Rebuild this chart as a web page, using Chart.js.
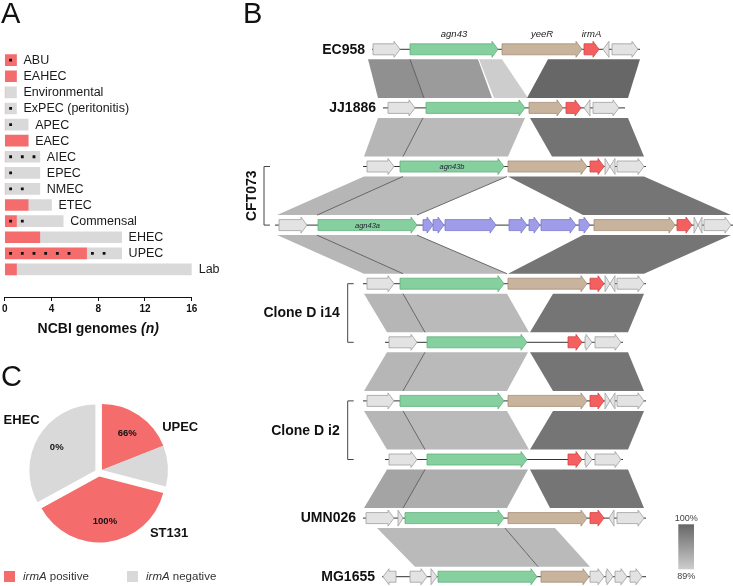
<!DOCTYPE html>
<html>
<head>
<meta charset="utf-8">
<script src="https://cdn.jsdelivr.net/npm/chart.js@4.4.1/dist/chart.umd.min.js"></script>
<style>
  body { margin: 0; background: #fff; width: 733px; height: 586px; position: relative; overflow: hidden;
         font-family: "Liberation Sans", Arial, Helvetica, sans-serif; }
  canvas { position: absolute; }
  .panel { position: absolute; font-size: 29px; line-height: 29px; color: #111; }
</style>
</head>
<body>
<canvas id="barA" width="240" height="345" style="left:0;top:0"></canvas>
<canvas id="mapB" width="493" height="586" style="left:240px;top:0"></canvas>
<canvas id="pieC" width="240" height="196" style="left:0;top:390px"></canvas>
<div class="panel" style="left:1px;top:-1px">A</div>
<div class="panel" style="left:243px;top:-1px">B</div>
<div class="panel" style="left:1px;top:362px">C</div>
<script>
// ---- panel A: genomes per pathotype
const categories = ['ABU', 'EAHEC', 'Environmental', 'ExPEC (peritonitis)', 'APEC', 'EAEC', 'AIEC',
                    'EPEC', 'NMEC', 'ETEC', 'Commensal', 'EHEC', 'UPEC', 'Lab'];
const irmaPositive = [1, 1, 0, 0, 0, 2, 0, 0, 0, 2, 1, 3, 7, 1];
const irmaNegative = [0, 0, 1, 1, 2, 0, 3, 3, 3, 2, 4, 7, 3, 15];
// genome slots carrying a dot (counted from the left of each bar)
const markedSlots = [[0], [], [], [0], [0], [], [0, 1, 2], [0], [0, 1], [], [0, 1], [],
                     [0, 1, 2, 3, 4, 5, 7, 8], []];
const genomeTicks = [0, 4, 8, 12, 16];

// ---- panel C: irmA carriage per group
const pieGroups = ['UPEC', 'ST131', 'EHEC'];
const piePositive = [19, 38, 0];
const pieNegative = [10, 0, 33];

// ---- panel B: loci (positions in arbitrary locus units)
const trackLabels = ['EC958', 'JJ1886', '', '', '', '', '', '', 'UMN026', 'MG1655'];
const trackSpans = [[102, 370], [113, 355], [93, 376], [5, 463], [93, 376], [115, 353],
                    [93, 376], [115, 353], [93, 376], [112, 376]];
// [start, end, strand, kind]  kind: o other, g agn43, t yeeR, r irmA, b prophage
const cftShortLocus = [[97, 124, 1, 'o'], [130, 234, 1, 'g'], [238, 317, 1, 't'], [320, 334, 1, 'r'],
                       [335, 340, 1, 'o'], [340, 345, -1, 'o'], [347, 374, 1, 'o']];
const cloneDLocus = [[119, 147, 1, 'o'], [157, 257, 1, 'g'], [298, 312, 1, 'r'], [315, 322, 1, 'o'],
                     [325, 351, 1, 'o']];
const trackGenes = [
  [[103, 130, 1, 'o'], [140, 228, 1, 'g'], [232, 312, 1, 't'], [314, 329, 1, 'r'], [333, 339, -1, 'o'], [342, 368, 1, 'o']],
  [[118, 145, 1, 'o'], [156, 255, 1, 'g'], [259, 293, 1, 't'], [296, 311, 1, 'r'], [314, 320, -1, 'o'], [323, 349, 1, 'o']],
  cftShortLocus,
  [[9, 37, 1, 'o'], [48, 147, 1, 'g'], [153, 163, 1, 'b'], [163, 174, 1, 'b'], [175, 226, 1, 'b'],
   [239, 257, 1, 'b'], [259, 270, 1, 'b'], [271, 306, 1, 'b'], [309, 320, 1, 'b'],
   [324, 405, 1, 't'], [407, 422, 1, 'r'], [424, 428, 1, 'o'], [428, 432, -1, 'o'], [434, 461, 1, 'o']],
  cftShortLocus, cloneDLocus, cftShortLocus, cloneDLocus,
  [[96, 124, 1, 'o'], [128, 133, 1, 'o'], [135, 234, 1, 'g'], [238, 317, 1, 't'], [320, 334, 1, 'r'],
   [339, 344, -1, 'o'], [347, 374, 1, 'o']],
  [[113, 126, -1, 'o'], [140, 157, 1, 'o'], [161, 167, 1, 'o'], [168, 267, 1, 'g'], [271, 319, 1, 't'],
   [320, 334, 1, 'o'], [336, 343, 1, 'o'], [345, 357, 1, 'o'], [360, 372, 1, 'o']]
];
const innerLabels = ['', '', 'agn43b', 'agn43a', '', '', '', '', '', ''];
const geneNames = { g: 'agn43', t: 'yeeR', r: 'irmA' };
// [upper track, top from, top to, bottom from, bottom to, identity %, edge lines]
const blastHits = [
  [0, 98, 140, 108, 154, 95.5, ''], [0, 140, 208, 154, 222, 94.3, 'L'], [0, 209, 232, 224, 258, 89.0, ''],
  [0, 278, 370, 257, 358, 99.9, ''],
  [1, 108, 153, 94, 133, 91.5, ''], [1, 153, 255, 133, 238, 91.0, 'L'], [1, 260, 358, 282, 374, 98.6, ''],
  [2, 94, 133, 7, 47, 91.5, ''], [2, 133, 237, 47, 147, 91.0, 'LR'], [2, 238, 374, 313, 461, 98.4, ''],
  [3, 7, 47, 94, 133, 91.5, ''], [3, 47, 147, 133, 237, 91.0, 'LR'], [3, 313, 461, 238, 374, 98.4, ''],
  [4, 94, 133, 117, 155, 91.5, ''], [4, 133, 237, 155, 259, 91.0, 'L'], [4, 283, 374, 260, 358, 98.4, ''],
  [5, 117, 155, 94, 133, 91.5, ''], [5, 155, 258, 133, 237, 91.0, 'L'], [5, 260, 358, 283, 374, 98.4, ''],
  [6, 94, 133, 117, 155, 91.5, ''], [6, 133, 237, 155, 259, 91.0, 'L'], [6, 283, 374, 260, 358, 98.4, ''],
  [7, 117, 155, 94, 133, 93.4, ''], [7, 155, 258, 133, 237, 92.4, 'L'], [7, 260, 358, 280, 374, 98.4, ''],
  [8, 107, 235, 145, 268, 91.0, ''], [8, 235, 285, 268, 320, 91.0, 'L']
];
const identityRange = [89, 100];
const brackets = [['CFT073', 2, 3], ['Clone D i14', 4, 5], ['Clone D i2', 6, 7]];

const FONT = '"Liberation Sans", Arial, Helvetica, sans-serif';
const RED = '#f46c6c';
const GREY = '#d9d9d9';

// ---------------- panel A ----------------
const barLabels = {
  id: 'barLabels',
  afterDatasetsDraw(chart) {
    const { ctx, scales: { x, y }, chartArea } = chart;
    ctx.save();
    ctx.fillStyle = '#1a1a1a';
    ctx.textBaseline = 'middle';
    ctx.font = `12.5px ${FONT}`;
    categories.forEach((c, i) => {
      const total = irmaPositive[i] + irmaNegative[i];
      ctx.fillText(c, x.getPixelForValue(total) + 7, y.getPixelForValue(i) + 0.5);
    });
    // axis title with italic (n)
    const t1 = 'NCBI genomes ', t2 = '(n)';
    ctx.font = `bold 14px ${FONT}`;
    const w1 = ctx.measureText(t1).width;
    ctx.font = `italic bold 14px ${FONT}`;
    const w2 = ctx.measureText(t2).width;
    const left = (chartArea.left + chartArea.right) / 2 - (w1 + w2) / 2;
    const ty = chartArea.bottom + 32;
    ctx.fillStyle = '#111';
    ctx.font = `bold 14px ${FONT}`;
    ctx.fillText(t1, left, ty);
    ctx.font = `italic bold 14px ${FONT}`;
    ctx.fillText(t2, left + w1, ty);
    ctx.restore();
  }
};

new Chart(document.getElementById('barA'), {
  type: 'bar',
  data: {
    datasets: [
      { label: 'irmA positive', data: irmaPositive.map((v, i) => ({ x: v, y: i })),
        backgroundColor: RED, barThickness: 11, order: 2 },
      { label: 'irmA negative', data: irmaNegative.map((v, i) => ({ x: v, y: i })),
        backgroundColor: GREY, barThickness: 11, order: 2 },
      { type: 'scatter', label: 'marked', stack: 'marks', order: 0,
        data: markedSlots.flatMap((s, i) => s.map(k => ({ x: k + 0.5, y: i }))),
        pointStyle: 'rect', radius: 2, backgroundColor: '#111', borderWidth: 0 }
    ]
  },
  options: {
    indexAxis: 'y',
    responsive: false,
    animation: false,
    layout: { padding: { left: 4.5, right: 48.3, top: 35.8, bottom: 28 } },
    plugins: { legend: { display: false }, tooltip: { enabled: false } },
    scales: {
      y: { type: 'linear', reverse: true, min: -0.5, max: 13.7, display: false, stacked: true },
      x: {
        type: 'linear', min: 0, max: 16, stacked: true,
        afterFit: s => { s.height = 20; },
        afterBuildTicks: s => { s.ticks = genomeTicks.map(v => ({ value: v })); },
        ticks: { font: { family: FONT, size: 10, weight: 'bold' }, color: '#111', padding: 2 },
        grid: { drawOnChartArea: false, tickLength: 4, color: '#111' },
        border: { color: '#111' }
      }
    }
  },
  plugins: [barLabels]
});

// ---------------- panel C ----------------
const sliceValues = [], sliceColors = [], sliceGroup = [], sliceNames = [];
pieGroups.forEach((g, i) => {
  if (piePositive[i]) { sliceValues.push(piePositive[i]); sliceColors.push(RED); sliceGroup.push(i); sliceNames.push(g + ' irmA positive'); }
  if (pieNegative[i]) { sliceValues.push(pieNegative[i]); sliceColors.push(GREY); sliceGroup.push(i); sliceNames.push(g + ' irmA negative'); }
});

function groupArcs(chart, gi) {
  return chart.getDatasetMeta(0).data.filter((a, k) => sliceGroup[k] === gi);
}

const explodeGroups = {
  id: 'explodeGroups',
  afterDatasetUpdate(chart, args, opts) {
    pieGroups.forEach((g, gi) => {
      const arcs = groupArcs(chart, gi);
      if (!arcs.length) return;
      const mid = (arcs[0].startAngle + arcs[arcs.length - 1].endAngle) / 2;
      arcs.forEach(a => { a.x += Math.cos(mid) * opts.shift; a.y += Math.sin(mid) * opts.shift; });
    });
  }
};

const pieText = {
  id: 'pieText',
  afterDatasetsDraw(chart, args, opts) {
    const { ctx, chartArea } = chart;
    const cx = (chartArea.left + chartArea.right) / 2;
    const cy = (chartArea.top + chartArea.bottom) / 2;
    const meta = chart.getDatasetMeta(0);
    const R = meta.data[0].outerRadius;
    ctx.save();
    ctx.fillStyle = '#111';
    ctx.textAlign = 'center';
    ctx.textBaseline = 'middle';
    pieGroups.forEach((g, gi) => {
      const arcs = groupArcs(chart, gi);
      const pos = piePositive[gi], neg = pieNegative[gi];
      const ref = pos ? arcs[0] : arcs[0];
      const a0 = pos ? arcs[0].startAngle : arcs[0].startAngle;
      const a1 = pos ? arcs[0].endAngle : arcs[arcs.length - 1].endAngle;
      const mid = (a0 + a1) / 2;
      ctx.font = `bold 9.5px ${FONT}`;
      ctx.fillText(Math.round(100 * pos / (pos + neg)) + '%',
                   ref.x + Math.cos(mid) * R * 0.68, ref.y + Math.sin(mid) * R * 0.68);
      const la = (opts.labelAngles[gi] - 90) * Math.PI / 180;
      ctx.font = `bold 13px ${FONT}`;
      ctx.fillText(g, cx + Math.cos(la) * R * 1.41, cy + Math.sin(la) * R * 1.41);
    });
    // legend
    const ly = 186.5;
    [[RED, 'positive', 4], [GREY, 'negative', 127]].forEach(([col, word, lx]) => {
      ctx.fillStyle = col;
      ctx.fillRect(lx, ly - 5.5, 11, 11);
      ctx.fillStyle = '#333';
      ctx.textAlign = 'left';
      ctx.font = `italic 11.5px ${FONT}`;
      ctx.fillText('irmA', lx + 19, ly);
      const w = ctx.measureText('irmA ').width;
      ctx.font = `11.5px ${FONT}`;
      ctx.fillText(word, lx + 19 + w, ly);
    });
    ctx.restore();
  }
};

new Chart(document.getElementById('pieC'), {
  type: 'pie',
  data: { labels: sliceNames, datasets: [{ data: sliceValues, backgroundColor: sliceColors, borderWidth: 0 }] },
  options: {
    responsive: false,
    animation: false,
    radius: 66,
    layout: { padding: { left: 0, right: 42.4, top: 0, bottom: 31 } },
    plugins: {
      legend: { display: false }, tooltip: { enabled: false },
      explodeGroups: { shift: 4 },
      pieText: { labelAngles: [61, 131, 304] }
    }
  },
  plugins: [explodeGroups, pieText]
});

// ---------------- panel B ----------------
const geneStyle = {
  o: ['#e3e3e3', '#9e9e9e'], g: ['#86cf9f', '#62b07f'], t: ['#c8b39c', '#a58f78'],
  r: ['#f46060', '#d44444'], b: ['#9f9cea', '#7b78cc']
};

function identityGrey(id) {
  const t = Math.max(0, Math.min(1, (id - identityRange[0]) / (identityRange[1] - identityRange[0])));
  const v = Math.round(205 - t * 103);
  return `rgb(${v},${v},${v})`;
}

function geneArrow(ctx, x1, x2, y, strand) {
  const bh = 5.5, hh = 8, hl = Math.min(6, x2 - x1);
  ctx.beginPath();
  if (strand > 0) {
    const hx = x2 - hl;
    ctx.moveTo(x1, y - bh); ctx.lineTo(hx, y - bh); ctx.lineTo(hx, y - hh); ctx.lineTo(x2, y);
    ctx.lineTo(hx, y + hh); ctx.lineTo(hx, y + bh); ctx.lineTo(x1, y + bh);
  } else {
    const hx = x1 + hl;
    ctx.moveTo(x2, y - bh); ctx.lineTo(hx, y - bh); ctx.lineTo(hx, y - hh); ctx.lineTo(x1, y);
    ctx.lineTo(hx, y + hh); ctx.lineTo(hx, y + bh); ctx.lineTo(x2, y + bh);
  }
  ctx.closePath();
  ctx.fill();
  ctx.stroke();
}

const synteny = {
  id: 'synteny',
  afterDatasetsDraw(chart, args, opts) {
    const { ctx, scales: { x, y } } = chart;
    ctx.save();
    // similarity blocks
    blastHits.forEach(([t, a1, a2, b1, b2, id, edges]) => {
      const top = y.getPixelForValue(t) + 10, bot = y.getPixelForValue(t + 1) - 10;
      ctx.fillStyle = identityGrey(id);
      ctx.beginPath();
      ctx.moveTo(x.getPixelForValue(a1), top); ctx.lineTo(x.getPixelForValue(a2), top);
      ctx.lineTo(x.getPixelForValue(b2), bot); ctx.lineTo(x.getPixelForValue(b1), bot);
      ctx.closePath();
      ctx.fill();
      ctx.strokeStyle = '#4d4d4d';
      ctx.lineWidth = 0.8;
      if (edges.includes('L')) {
        ctx.beginPath(); ctx.moveTo(x.getPixelForValue(a1), top); ctx.lineTo(x.getPixelForValue(b1), bot); ctx.stroke();
      }
      if (edges.includes('R')) {
        ctx.beginPath(); ctx.moveTo(x.getPixelForValue(a2), top); ctx.lineTo(x.getPixelForValue(b2), bot); ctx.stroke();
      }
    });
    // backbone lines and genes
    trackSpans.forEach(([s, e], t) => {
      const ty = y.getPixelForValue(t);
      ctx.strokeStyle = '#333';
      ctx.lineWidth = 1;
      ctx.beginPath(); ctx.moveTo(x.getPixelForValue(s), ty); ctx.lineTo(x.getPixelForValue(e), ty); ctx.stroke();
      ctx.lineWidth = 0.8;
      trackGenes[t].forEach(([g1, g2, strand, kind]) => {
        ctx.fillStyle = geneStyle[kind][0];
        ctx.strokeStyle = geneStyle[kind][1];
        geneArrow(ctx, x.getPixelForValue(g1), x.getPixelForValue(g2), ty, strand);
      });
      // strain names
      if (trackLabels[t]) {
        ctx.fillStyle = '#111';
        ctx.font = `bold 14px ${FONT}`;
        ctx.textAlign = 'right';
        ctx.textBaseline = 'middle';
        ctx.fillText(trackLabels[t], x.getPixelForValue(s) - 7, ty + 0.5);
      }
      // labels inside agn43 copies
      if (innerLabels[t]) {
        const g = trackGenes[t].find(d => d[3] === 'g');
        ctx.fillStyle = '#223';
        ctx.font = `italic 7.5px ${FONT}`;
        ctx.textAlign = 'center';
        ctx.textBaseline = 'middle';
        ctx.fillText(innerLabels[t], (x.getPixelForValue(g[0]) + x.getPixelForValue(g[1])) / 2, ty + 0.5);
      }
    });
    // gene names above the first locus
    ctx.fillStyle = '#222';
    ctx.font = `italic 9.5px ${FONT}`;
    ctx.textAlign = 'center';
    ctx.textBaseline = 'middle';
    trackGenes[0].forEach(([g1, g2, , kind]) => {
      if (geneNames[kind]) {
        ctx.fillText(geneNames[kind], (x.getPixelForValue(g1) + x.getPixelForValue(g2)) / 2, y.getPixelForValue(0) - 15);
      }
    });
    // brackets for paired loci
    ctx.strokeStyle = '#444';
    ctx.lineWidth = 1;
    brackets.forEach(([name, t1, t2], k) => {
      const bx = opts.bracketX[k];
      const y1 = y.getPixelForValue(t1), y2 = y.getPixelForValue(t2);
      ctx.beginPath();
      ctx.moveTo(bx + 6, y1); ctx.lineTo(bx, y1); ctx.lineTo(bx, y2); ctx.lineTo(bx + 6, y2);
      ctx.stroke();
      ctx.fillStyle = '#111';
      ctx.font = `bold 14px ${FONT}`;
      ctx.textBaseline = 'middle';
      if (k === 0) {
        ctx.save();
        ctx.translate(bx - 12, (y1 + y2) / 2);
        ctx.rotate(-Math.PI / 2);
        ctx.textAlign = 'center';
        ctx.fillText(name, 0, 0);
        ctx.restore();
      } else {
        ctx.textAlign = 'right';
        ctx.fillText(name, bx - 8, (y1 + y2) / 2 + 0.5);
      }
    });
    // identity key
    const [kx, ky, kw, kh] = opts.key;
    const grad = ctx.createLinearGradient(0, ky, 0, ky + kh);
    grad.addColorStop(0, identityGrey(identityRange[1]));
    grad.addColorStop(1, identityGrey(identityRange[0]));
    ctx.fillStyle = grad;
    ctx.fillRect(kx, ky, kw, kh);
    ctx.fillStyle = '#444';
    ctx.font = `9px ${FONT}`;
    ctx.textAlign = 'center';
    ctx.fillText(identityRange[1] + '%', kx + kw / 2, ky - 6);
    ctx.fillText(identityRange[0] + '%', kx + kw / 2, ky + kh + 7.5);
    ctx.restore();
  }
};

new Chart(document.getElementById('mapB'), {
  type: 'scatter',
  data: { datasets: [] },
  options: {
    responsive: false,
    animation: false,
    layout: { padding: { left: 30, right: 0, top: 49.3, bottom: 9.3 } },
    scales: {
      x: { type: 'linear', min: 0, max: 463, display: false },
      y: { type: 'linear', min: 0, max: 9, reverse: true, display: false }
    },
    plugins: {
      legend: { display: false }, tooltip: { enabled: false },
      synteny: { bracketX: [24, 107.7, 107.7], key: [438.3, 524.3, 15.7, 45] }
    }
  },
  plugins: [synteny]
});
</script>
</body>
</html>
